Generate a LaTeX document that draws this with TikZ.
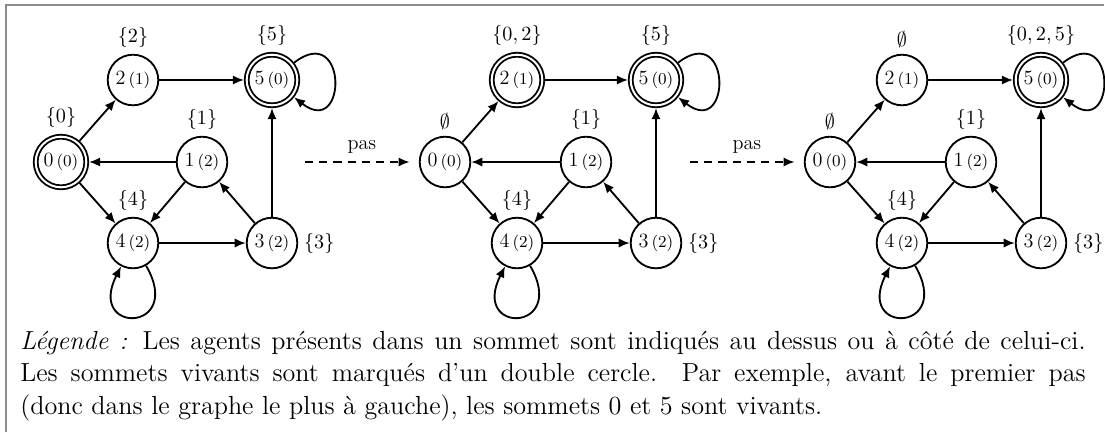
\documentclass[tikz,border=0pt]{standalone}
\usepackage{fontspec}
\usetikzlibrary{arrows.meta}
\definecolor{framegray}{RGB}{140,140,140}
\newcommand\legendfont{\fontsize{14.2}{17.9}\selectfont}
\tikzset{
  st/.style={circle, draw, line width=1pt, minimum size=27.5pt, inner sep=1pt, font=\fontsize{11}{13.6}\selectfont},
  live/.style={st, double, double distance=1.1pt, outer sep=1.5pt},
  lbl/.style={font=\fontsize{11}{13.6}\selectfont, inner sep=2pt},
  arr/.style={line width=1pt, -{Latex[length=6pt,width=5pt]}},
  stepline/.style={arr, dash pattern=on 4.5pt off 3.2pt},
  every label/.style={lbl},
}
\newcommand\vlab[2]{#1\kern1.6pt{\fontsize{9}{10.5}\selectfont(#2)}}
% #1 prefix, #2 x offset, #3 style of 0, #4 label of 0, #5 style of 2, #6 label of 2, #7 label of 5
\newcommand\agentgraph[7]{%
  \node[#3, label={[label distance=1.1pt]above:#4}] (#1-0) at (#2+61,-162) {\vlab{0}{0}};
  \node[#5, label={[label distance=1.1pt]above:#6}] (#1-2) at (#2+133,-80) {\vlab{2}{1}};
  \node[live, label={[label distance=1.1pt]above:#7}] (#1-5) at (#2+272,-80) {\vlab{5}{0}};
  \node[st, label={[label distance=1.1pt]above:$\{1\}$}] (#1-1) at (#2+202,-162) {\vlab{1}{2}};
  \node[st, label={[label distance=1.1pt]above:$\{4\}$}] (#1-4) at (#2+133,-243) {\vlab{4}{2}};
  \node[st, label={[label distance=1pt]right:$\{3\}$}] (#1-3) at (#2+272,-243) {\vlab{3}{2}};
  \draw[arr] (#1-0) -- (#1-2);
  \draw[arr] (#1-0) -- (#1-4);
  \draw[arr] (#1-1) -- (#1-0);
  \draw[arr] (#1-1) -- (#1-4);
  \draw[arr] (#1-3) -- (#1-1);
  \draw[arr] (#1-3) -- (#1-5);
  \draw[arr] (#1-2) -- (#1-5);
  \draw[arr] (#1-4) -- (#1-3);
  \draw[arr] (#1-5) to[out=38, in=-38, distance=37pt] (#1-5);
  \draw[arr] (#1-4) to[out=-60, in=-117, distance=42pt] (#1-4);
}
\begin{document}
\begin{tikzpicture}[x=0.5435pt, y=0.5435pt]
\useasboundingbox (0,0) rectangle (1105,-432);
\draw[framegray, line width=0.6pt] (6,-432) -- (6,-5) -- (1104,-5);
\agentgraph{ga}{0}{live}{$\{0\}$}{st}{$\{2\}$}{$\{5\}$}
\agentgraph{gb}{384}{st}{$\emptyset$}{live}{$\{0,2\}$}{$\{5\}$}
\agentgraph{gc}{769}{st}{$\emptyset$}{st}{$\emptyset$}{$\{0,2,5\}$}
\coordinate (s1) at (305,-162);
\coordinate (s2) at (690,-162);
\draw[stepline, shorten >=5pt] (s1) -- node[lbl, above=2pt] (p1) {pas} (gb-0);
\draw[stepline, shorten >=5pt] (s2) -- node[lbl, above=2pt] (p2) {pas} (gc-0);
\node[anchor=base west, text width=579pt, inner sep=0pt, align=justify,
      font=\legendfont] (legend) at (20,-349)
  {\textit{Légende :} Les agents présents dans un sommet sont indiqués au dessus ou à côté de celui-ci.\linebreak
   Les sommets vivants sont marqués d'un double cercle. Par exemple, avant le premier pas\linebreak
   (donc dans le graphe le plus à gauche), les sommets 0 et 5 sont vivants.\par};
\end{tikzpicture}
\end{document}
